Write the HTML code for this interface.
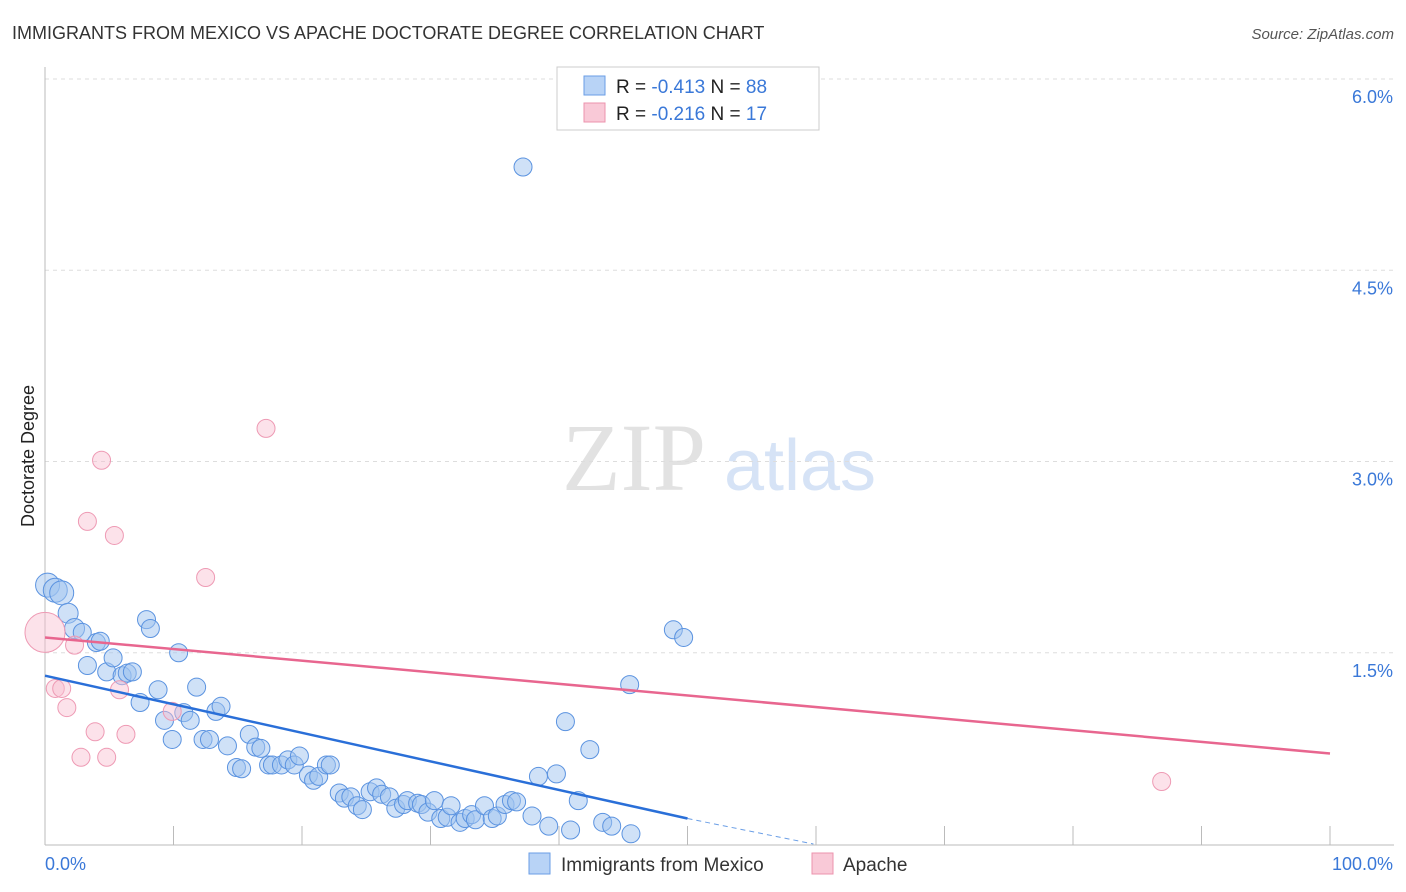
<!DOCTYPE html>
<html><head><meta charset="utf-8">
<style>
body{margin:0;background:#fff;font-family:"Liberation Sans",sans-serif;}
#wrap{position:relative;width:1406px;height:892px;overflow:hidden;}
</style></head>
<body>
<div id="wrap">
<svg id="chart" width="1406" height="892">
  <text x="12" y="39" font-size="18" fill="#333">IMMIGRANTS FROM MEXICO VS APACHE DOCTORATE DEGREE CORRELATION CHART</text>
  <text x="1394" y="39" font-size="15" fill="#555" font-style="italic" text-anchor="end">Source: ZipAtlas.com</text>
  <text x="0" y="0" font-size="18" fill="#222" transform="translate(34,456) rotate(-90)" text-anchor="middle">Doctorate Degree</text>
  <g>
    <text x="634" y="490" font-size="96" fill="#e2e2e2" font-family="Liberation Serif,serif" text-anchor="middle">ZIP</text>
    <text x="800" y="490" font-size="72" fill="#d6e3f6" text-anchor="middle">atlas</text>
  </g>
  <g id="grid"></g>
  <g id="axes"></g>
  <g id="pts"></g>
  <g id="lines"></g>
  <g>
    <rect x="557" y="67" width="262" height="63" fill="#fff" stroke="#ccc"/>
    <rect x="584" y="76" width="21" height="19" fill="#b8d3f6" stroke="#6a9ee6"/>
    <text x="616" y="93" font-size="19" fill="#222">R = <tspan fill="#3a78d8">-0.413</tspan>   N = <tspan fill="#3a78d8">88</tspan></text>
    <rect x="584" y="103" width="21" height="19" fill="#f9c9d7" stroke="#ec93ad"/>
    <text x="616" y="120" font-size="19" fill="#222">R = <tspan fill="#3a78d8">-0.216</tspan>   N = <tspan fill="#3a78d8"> 17</tspan></text>
  </g>
  <g>
    <rect x="529" y="853" width="21" height="21" fill="#b8d3f6" stroke="#6a9ee6"/>
    <text x="561" y="871" font-size="19" fill="#333">Immigrants from Mexico</text>
    <rect x="812" y="853" width="21" height="21" fill="#f9c9d7" stroke="#ec93ad"/>
    <text x="843" y="871" font-size="19" fill="#333">Apache</text>
  </g>
</svg>
</div>
<script>
const NS="http://www.w3.org/2000/svg";
const yTicks=[1.5,3.0,4.5,6.0];
const yTickLabels=["1.5%","3.0%","4.5%","6.0%"];
const xTickLabels=["0.0%","100.0%"];
const mexicoX=[0.2,0.8,1.3,1.8,2.3,2.9,4.0,4.3,3.3,4.8,5.3,6.0,6.4,6.8,7.9,8.2,10.4,8.8,7.4,9.3,9.9,10.8,11.3,11.8,13.3,13.7,12.3,12.8,14.2,14.9,15.3,15.9,16.4,16.8,17.4,17.7,18.4,18.9,19.4,19.8,20.5,20.9,21.3,21.9,22.2,22.9,23.3,23.8,24.3,24.7,25.3,25.8,26.2,26.8,27.3,27.9,28.2,29.0,29.3,29.8,30.3,30.8,31.3,31.6,32.3,32.7,33.2,33.5,34.2,34.8,35.2,35.8,36.3,36.7,37.9,38.4,39.2,39.8,40.5,40.9,41.5,42.4,43.4,44.1,45.6,45.5,48.9,49.7,37.2];
const mexicoY=[2.03,1.99,1.97,1.81,1.69,1.66,1.58,1.59,1.40,1.35,1.46,1.32,1.34,1.35,1.76,1.69,1.50,1.21,1.11,0.97,0.82,1.03,0.97,1.23,1.04,1.08,0.82,0.82,0.77,0.60,0.59,0.86,0.76,0.75,0.62,0.62,0.62,0.66,0.62,0.69,0.54,0.50,0.53,0.62,0.62,0.40,0.36,0.37,0.30,0.27,0.41,0.44,0.39,0.37,0.28,0.31,0.34,0.32,0.31,0.25,0.34,0.20,0.21,0.30,0.17,0.20,0.23,0.19,0.30,0.20,0.22,0.31,0.34,0.33,0.22,0.53,0.14,0.55,0.96,0.11,0.34,0.74,0.17,0.14,0.08,1.25,1.68,1.62,5.31];
const apacheX=[0.0,0.8,1.3,1.7,2.3,2.8,3.9,4.8,5.8,6.3,3.3,4.4,5.4,9.9,12.5,17.2,86.9];
const apacheY=[1.66,1.22,1.22,1.07,1.56,0.68,0.88,0.68,1.21,0.86,2.53,3.01,2.42,1.04,2.09,3.26,0.49];
const mexicoTrend=[[0,1.32],[50,0.20]];
const mexicoTrendExt=[[50,0.20],[59.8,0]];
const apacheTrend=[[0,1.62],[100,0.71]];

const X=v=>45+v*12.85;
const Y=v=>844-v*127.5;
function mk(t,a,p){const e=document.createElementNS(NS,t);for(const k in a)e.setAttribute(k,a[k]);p.appendChild(e);return e;}
const grid=document.getElementById('grid'),axes=document.getElementById('axes'),pts=document.getElementById('pts'),lines=document.getElementById('lines');
yTicks.forEach((t,i)=>{
  const l=mk('line',{x1:45,x2:1394,y1:Y(t),y2:Y(t),stroke:'#ddd','stroke-dasharray':'4,4'},grid);
  
  
  const tx=mk('text',{x:1393,y:Y(t)+24,'font-size':18,fill:'#3a78d8','text-anchor':'end'},axes);
  tx.textContent=yTickLabels[i];
  
  
});
const ya=mk('line',{x1:45,x2:45,y1:67,y2:845,stroke:'#bbb'},axes);


const xa=mk('line',{x1:45,x2:1394,y1:845,y2:845,stroke:'#bbb'},axes);


for(let i=0;i<=10;i++){
  const tk=mk('line',{x1:X(i*10),x2:X(i*10),y1:826,y2:845,stroke:'#bbb'},axes);
  
  
}
const xl0=mk('text',{x:45,y:870,'font-size':18,fill:'#3a78d8'},axes);xl0.textContent=xTickLabels[0];


const xl1=mk('text',{x:1393,y:870,'font-size':18,fill:'#3a78d8','text-anchor':'end'},axes);xl1.textContent=xTickLabels[1];


mexicoX.forEach((v,i)=>{
  const r=i<3?12:(i<5?10:9);
  const c=mk('circle',{cx:X(v),cy:Y(mexicoY[i]),r:r,fill:'rgba(160,195,240,0.5)',stroke:'#5b93e0','stroke-width':1},pts);
  
  
});
apacheX.forEach((v,i)=>{
  const r=i===0?20:9;
  const c=mk('circle',{cx:X(v),cy:Y(apacheY[i]),r:r,fill:'rgba(248,190,208,0.45)',stroke:'#ee9ab4','stroke-width':1},pts);
  
  
});
const bl=mk('line',{x1:X(mexicoTrend[0][0]),y1:Y(mexicoTrend[0][1]),x2:X(mexicoTrend[1][0]),y2:Y(mexicoTrend[1][1]),stroke:'#2a6fd8','stroke-width':2.5},lines);


const bd=mk('line',{x1:X(mexicoTrendExt[0][0]),y1:Y(mexicoTrendExt[0][1]),x2:X(mexicoTrendExt[1][0]),y2:Y(mexicoTrendExt[1][1]),stroke:'#6a9ee6','stroke-width':1,'stroke-dasharray':'5,4'},lines);


const pl=mk('line',{x1:X(apacheTrend[0][0]),y1:Y(apacheTrend[0][1]),x2:X(apacheTrend[1][0]),y2:Y(apacheTrend[1][1]),stroke:'#e8668f','stroke-width':2.5},lines);


</script>
</body></html>
